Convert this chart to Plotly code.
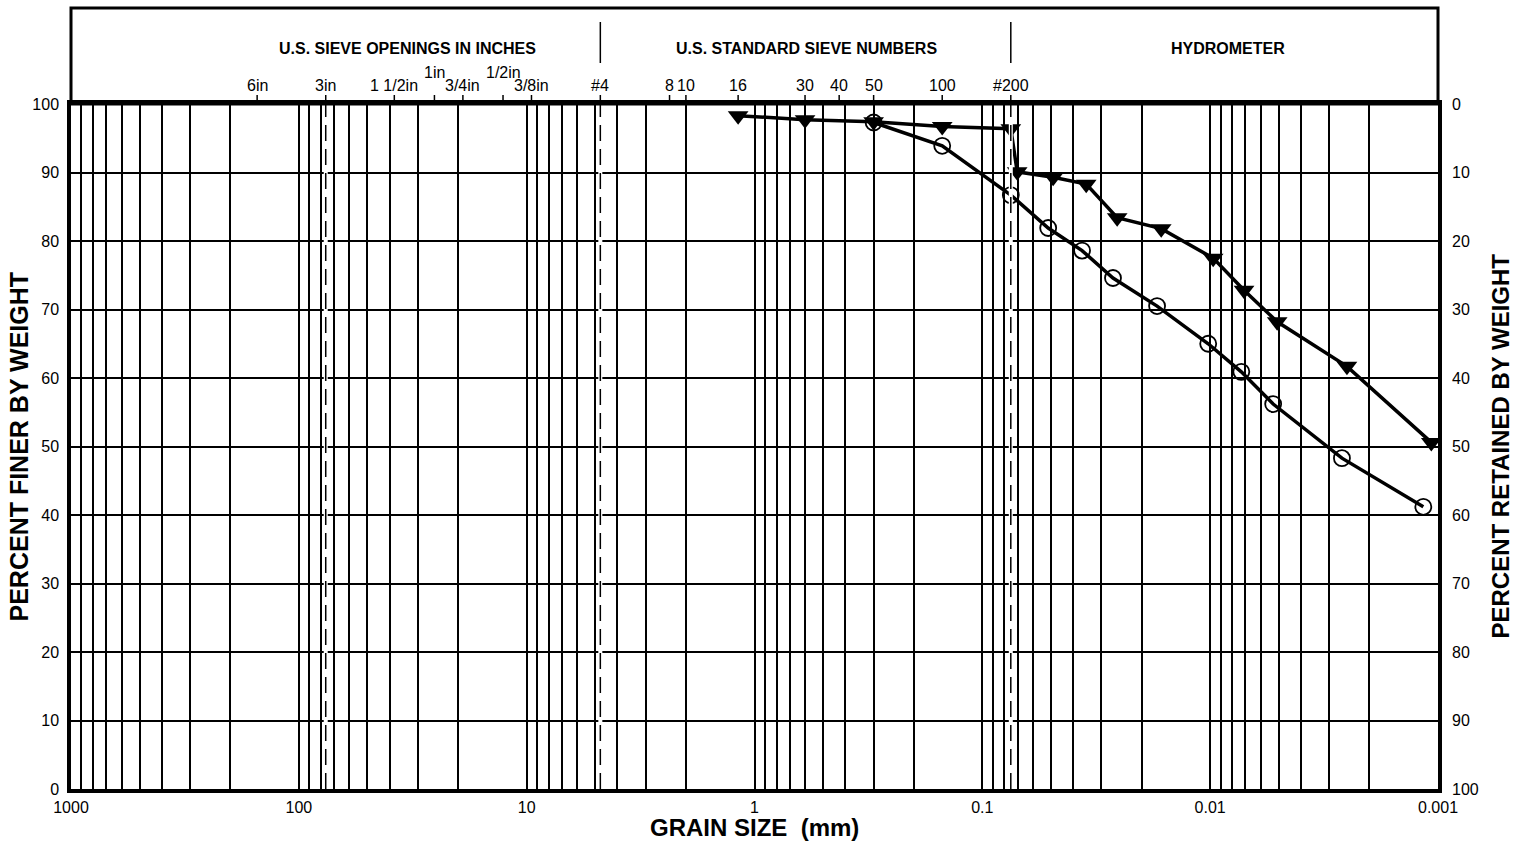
import numpy as np
import plotly.graph_objects as go

# grain size (mm) / percent finer
tri_size = [1.18, 0.6, 0.3, 0.15, 0.075, 0.0703, 0.0489, 0.035, 0.0256, 0.0164,
            0.0097, 0.0071, 0.00508, 0.00251, 0.00107]
tri_finer = [98.3, 97.7, 97.4, 96.7, 96.4, 90.1, 89.3, 88.3, 83.4, 81.8,
             77.5, 72.8, 68.2, 61.7, 50.6]

circ_size = [0.3, 0.15, 0.075, 0.0514, 0.0365, 0.0267, 0.0171, 0.0102, 0.0073,
             0.00529, 0.00264, 0.00116]
circ_finer = [97.3, 93.9, 86.7, 81.9, 78.6, 74.6, 70.5, 65.0, 60.9, 56.2, 48.3, 41.2]

# top scale: sieve openings (mm) and labels
sieve_mm = [152.4, 76.2, 38.1, 25.4, 19.05, 12.7, 9.525, 4.75, 2.36, 2.0,
            1.18, 0.6, 0.425, 0.3, 0.15, 0.075]
sieve_lbl = ['6in', '3in', '1 1/2in', '1in', '3/4in', '1/2in', '3/8in', '#4', '8', '10',
             '16', '30', '40', '50', '100', '#200']
sieve_raised = ['1in', '1/2in']

x_ticks = [1000, 100, 10, 1, 0.1, 0.01, 0.001]
x_ticktext = ['1000', '100', '10', '1', '0.1', '0.01', '0.001']
dashed_mm = [76.2, 4.75, 0.075]
section_mm = [4.75, 0.075]
sections = ['U.S. SIEVE OPENINGS IN INCHES', 'U.S. STANDARD SIEVE NUMBERS', 'HYDROMETER']
section_x = [0.2465, 0.5377, 0.8464]

minor = [m * 10.0 ** e for e in range(-3, 3) for m in range(2, 10)]

FONT = 'Liberation Sans, Arial, sans-serif'
W, H = 1522, 842
ML, MT = 71, 104
PW, PH = 1367, 685
MR, MB = W - ML - PW, H - MT - PH


def py(pix):
    # pixel row -> paper y
    return (MT + PH - pix) / PH


fig = go.Figure()

fig.add_trace(go.Scatter(x=tri_size, y=tri_finer, mode='lines+markers',
                         line=dict(color='black', width=3.5),
                         marker=dict(symbol='triangle-down', size=18, color='black'),
                         showlegend=False, hoverinfo='x+y'))
fig.add_trace(go.Scatter(x=circ_size, y=circ_finer, mode='lines+markers',
                         line=dict(color='black', width=3.5),
                         marker=dict(symbol='circle-open', size=16, color='black',
                                     line=dict(width=1.8, color='black')),
                         showlegend=False, hoverinfo='x+y'))
# retained axis
fig.add_trace(go.Scatter(x=circ_size, y=[100 - v for v in circ_finer], yaxis='y2',
                         mode='lines', opacity=0, showlegend=False, hoverinfo='skip'))

shapes = []
# dashed reference lines with white background
for d in dashed_mm:
    shapes.append(dict(type='line', xref='x', yref='paper', x0=d, x1=d, y0=0, y1=1,
                       line=dict(color='white', width=4), layer='above'))
    shapes.append(dict(type='line', xref='x', yref='paper', x0=d, x1=d, y0=0, y1=1,
                       line=dict(color='black', width=1.5, dash='16px,8px'), layer='above'))
# header box
shapes.append(dict(type='rect', xref='paper', yref='paper', x0=0, x1=1, y0=1, y1=py(8),
                   line=dict(color='black', width=3)))
for d in section_mm:
    shapes.append(dict(type='line', xref='x', yref='paper', x0=d, x1=d, y0=py(63), y1=py(22),
                       line=dict(color='black', width=1.5)))
for d in sieve_mm:
    shapes.append(dict(type='line', xref='x', yref='paper', x0=d, x1=d, y0=1, y1=py(95),
                       line=dict(color='black', width=1.5)))

ann = []
for t, xp in zip(sections, section_x):
    ann.append(dict(text='<b>%s</b>' % t, xref='paper', yref='paper', x=xp, y=py(49),
                    xanchor='center', yanchor='middle', showarrow=False,
                    font=dict(size=16, family=FONT, color='black')))
for d, t in zip(sieve_mm, sieve_lbl):
    yy = py(73) if t in sieve_raised else py(86)
    ann.append(dict(text=t, xref='x', yref='paper', x=np.log10(d), y=yy,
                    xanchor='center', yanchor='middle', showarrow=False,
                    font=dict(size=16, family=FONT, color='black')))
ann.append(dict(text='<b>PERCENT FINER BY WEIGHT</b>', xref='paper', yref='paper',
                x=0, y=0.5, xshift=18 - 71, xanchor='center', yanchor='middle',
                textangle=-90, showarrow=False,
                font=dict(size=25, family=FONT, color='black')))
ann.append(dict(text='<b>PERCENT RETAINED BY WEIGHT</b>', xref='paper', yref='paper',
                x=1, y=0.5, xshift=1500 - 1438, xanchor='center', yanchor='middle',
                textangle=-90, showarrow=False,
                font=dict(size=24, family=FONT, color='black')))
ann.append(dict(text='<b>GRAIN SIZE\u00a0 (mm)</b>', xref='paper', yref='paper',
                x=0.5, y=0, yshift=-(827 - 789), xanchor='center', yanchor='middle',
                showarrow=False, font=dict(size=24, family=FONT, color='black')))

fig.update_layout(
    width=W, height=H,
    margin=dict(l=ML, r=MR, t=MT, b=MB, autoexpand=False),
    paper_bgcolor='white', plot_bgcolor='white',
    font=dict(family=FONT, size=16, color='black'),
    shapes=shapes, annotations=ann,
    xaxis=dict(type='log', range=[3, -3], tickvals=x_ticks, ticktext=x_ticktext,
               showgrid=True, gridcolor='black', gridwidth=1.8,
               minor=dict(tickvals=minor, showgrid=True, gridcolor='black', gridwidth=1.8, ticks=''),
               showline=True, linecolor='black', linewidth=3.5, mirror=True,
               ticks='', ticklabelstandoff=1, zeroline=False),
    yaxis=dict(range=[0, 100], tickvals=list(range(0, 101, 10)),
               showgrid=True, gridcolor='black', gridwidth=1.8,
               showline=True, linecolor='black', linewidth=3.5, mirror=True,
               ticks='', ticklabelstandoff=5, zeroline=False),
    yaxis2=dict(range=[100, 0], tickvals=list(range(0, 101, 10)), overlaying='y', side='right',
                showgrid=False, ticks='', ticklabelstandoff=13, zeroline=False, showline=False),
)

fig.write_html('out.html', config={'displayModeBar': False},
               post_script="document.body.style.margin='0';")
